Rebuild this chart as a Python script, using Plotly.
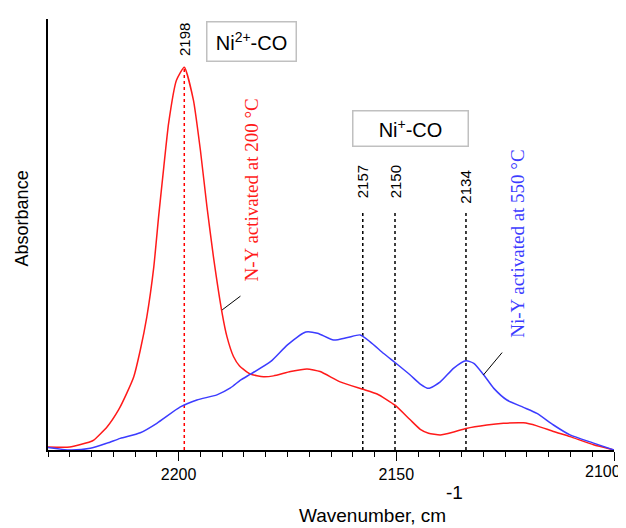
import plotly.graph_objects as go

# ---- data ----
red_w = [2230, 2225, 2220.3, 2219.5, 2216.4, 2213.8, 2211.9, 2210.3, 2208.8, 2207.3,
         2205.7, 2204.6, 2203.4, 2202.3, 2200.5, 2198.7, 2196.6, 2195.0, 2193.5, 2192.0,
         2190.0, 2188.9, 2187.4, 2186.0, 2183.5, 2180.5, 2178.2, 2174.3, 2170.5, 2167.5,
         2162.9, 2157.7, 2154.4, 2150.3, 2146.8, 2144.5, 2142.6, 2139.9, 2136.8, 2134.0,
         2129.2, 2125.4, 2120.8, 2117.7, 2113.9, 2110.1, 2104.7, 2100.0]
red_a = [0.007, 0.007, 0.019, 0.023, 0.054, 0.093, 0.132, 0.170, 0.232, 0.309,
         0.425, 0.541, 0.657, 0.758, 0.858, 0.888, 0.812, 0.696, 0.565, 0.448,
         0.317, 0.263, 0.217, 0.195, 0.176, 0.170, 0.172, 0.182, 0.188, 0.182,
         0.158, 0.141, 0.130, 0.104, 0.070, 0.048, 0.039, 0.035, 0.042, 0.050,
         0.058, 0.062, 0.063, 0.056, 0.043, 0.031, 0.012, 0.0]

blue_w = [2230, 2224.9, 2220.3, 2216.4, 2213.4, 2208.8, 2205.0, 2199.6, 2195.8, 2191.2,
          2188.1, 2185.8, 2183.5, 2178.9, 2175.0, 2170.8, 2168.1, 2164.4, 2161.2, 2158.3,
          2156.0, 2152.9, 2150.3, 2146.8, 2144.5, 2142.6, 2139.9, 2136.8, 2134.0, 2132.2,
          2129.9, 2127.6, 2124.6, 2120.8, 2117.7, 2113.9, 2110.1, 2104.7, 2100.0]
blue_a = [0.006, 0.0, 0.004, 0.016, 0.027, 0.040, 0.062, 0.100, 0.116, 0.128,
          0.144, 0.162, 0.176, 0.205, 0.244, 0.274, 0.271, 0.255, 0.261, 0.267,
          0.251, 0.224, 0.203, 0.174, 0.153, 0.143, 0.158, 0.190, 0.207, 0.201,
          0.174, 0.143, 0.116, 0.099, 0.085, 0.058, 0.035, 0.016, 0.0]

peak_labels = ["2198", "2157", "2150", "2134"]
peak_pos = [2198.7, 2157.7, 2150.3, 2134.0]
peak_top = [0.888, 0.55, 0.55, 0.55]
peak_label_y = [0.952, 0.623, 0.621, 0.611]
peak_colors = ["#ff0000", "black", "black", "black"]

x_range = [2230, 2100]
x_tick_vals = [2200, 2150, 2100]
x_tick_text = ["2200", "2150", "2100"]

RED = "#ff1a1a"
BLUE = "#3c3cff"
SANS = "Liberation Sans, Arial, sans-serif"
SERIF = "Liberation Serif, Times New Roman, serif"

fig = go.Figure()

# peak marker lines
for p, top, c in zip(peak_pos, peak_top, peak_colors):
    fig.add_trace(go.Scatter(x=[p, p], y=[0, top], mode="lines",
                             line=dict(color=c, width=1.5, dash="dot"),
                             showlegend=False, hoverinfo="skip"))

fig.add_trace(go.Scatter(x=red_w, y=red_a, mode="lines",
                         line=dict(color=RED, width=1.5, shape="spline", smoothing=0.5),
                         showlegend=False))
fig.add_trace(go.Scatter(x=blue_w, y=blue_a, mode="lines",
                         line=dict(color=BLUE, width=1.5, shape="spline", smoothing=0.6),
                         showlegend=False))

annotations = []
for lab, p, ly in zip(peak_labels, peak_pos, peak_label_y):
    annotations.append(dict(x=p, y=ly, xref="x", yref="y", text=lab, showarrow=False,
                            textangle=-90, xanchor="center", yanchor="middle",
                            font=dict(family=SANS, size=15, color="black")))

# last tick label, pulled inside the page edge as in the reference
annotations.append(dict(x=x_tick_vals[-1], y=-0.05, xref="x", yref="paper",
                        text=x_tick_text[-1], showarrow=False,
                        xanchor="right", yanchor="middle", xshift=9,
                        font=dict(family=SANS, size=16, color="black")))

# species boxes
annotations.append(dict(x=2183.2, y=0.947, xref="x", yref="y",
                        text="Ni<sup>2+</sup>-CO", showarrow=False,
                        font=dict(family=SANS, size=20, color="black"),
                        bordercolor="#c0c0c0", borderwidth=1.5, borderpad=1,
                        width=86, height=36, xanchor="center", yanchor="middle"))
annotations.append(dict(x=2146.7, y=0.747, xref="x", yref="y",
                        text="Ni<sup>+</sup>-CO", showarrow=False,
                        font=dict(family=SANS, size=20, color="black"),
                        bordercolor="#c0c0c0", borderwidth=1.5, borderpad=1,
                        width=112, height=32, xanchor="center", yanchor="middle"))

# series labels
annotations.append(dict(x=2183.3, y=0.603, xref="x", yref="y",
                        text="N-Y activated at 200 °C", showarrow=False, textangle=-90,
                        xanchor="center", yanchor="middle",
                        font=dict(family=SERIF, size=19, color=RED)))
annotations.append(dict(x=2122.1, y=0.478, xref="x", yref="y",
                        text="Ni-Y activated at 550 °C", showarrow=False, textangle=-90,
                        xanchor="center", yanchor="middle",
                        font=dict(family=SERIF, size=19, color=BLUE)))

# axis titles
annotations.append(dict(x=-0.0454, y=0.538, xref="paper", yref="paper",
                        text="Absorbance", showarrow=False, textangle=-90,
                        xanchor="center", yanchor="middle",
                        font=dict(family=SANS, size=18, color="black")))
annotations.append(dict(x=0.574, y=-0.153, xref="paper", yref="paper",
                        text="Wavenumber, cm", showarrow=False,
                        xanchor="center", yanchor="middle",
                        font=dict(family=SANS, size=19, color="black")))
annotations.append(dict(x=0.719, y=-0.098, xref="paper", yref="paper",
                        text="-1", showarrow=False,
                        xanchor="center", yanchor="middle",
                        font=dict(family=SANS, size=19, color="black")))

shapes = [
    dict(type="line", xref="x", yref="y", x0=2185.8, y0=0.357, x1=2190.0, y1=0.325,
         line=dict(color="black", width=1)),
    dict(type="line", xref="x", yref="y", x0=2125.7, y0=0.226, x1=2130.0, y1=0.174,
         line=dict(color="black", width=1)),
]

# page body has an 8px margin: size the figure so the plot area lands where the reference has it
fig.update_layout(
    width=618, height=520,
    margin=dict(l=40, r=12, t=11, b=78, autoexpand=False),
    paper_bgcolor="white", plot_bgcolor="white",
    annotations=annotations, shapes=shapes,
    xaxis=dict(range=x_range, showgrid=False, zeroline=False, automargin=False,
               showline=True, linecolor="black", linewidth=1.5,
               tickmode="array", tickvals=x_tick_vals,
               ticktext=x_tick_text[:-1] + [""],
               ticks="outside", ticklen=9, tickwidth=1.2, tickcolor="black",
               tickfont=dict(family=SANS, size=16, color="black"),
               minor=dict(dtick=5, tick0=2100, ticks="outside", ticklen=5,
                          tickwidth=1.2, tickcolor="black", showgrid=False)),
    yaxis=dict(range=[0, 1], showgrid=False, zeroline=False, automargin=False,
               showline=True, linecolor="black", linewidth=1.5,
               showticklabels=False, ticks=""),
)

fig.write_html("out.html")
